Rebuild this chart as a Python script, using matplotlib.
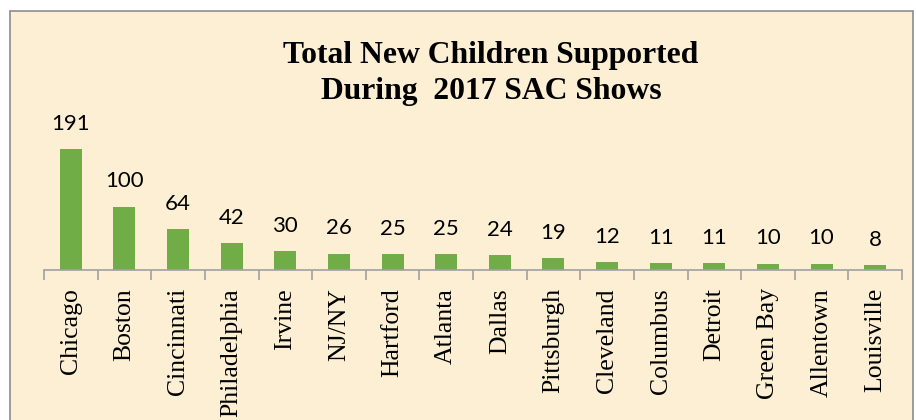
import matplotlib.pyplot as plt
from matplotlib.patches import Rectangle
import numpy as np

cities = ['Chicago', 'Boston', 'Cincinnati', 'Philadelphia', 'Irvine', 'NJ/NY',
          'Hartford', 'Atlanta', 'Dallas', 'Pittsburgh', 'Cleveland', 'Columbus',
          'Detroit', 'Green Bay', 'Allentown', 'Louisville']
children = [191, 100, 64, 42, 30, 26, 25, 25, 24, 19, 12, 11, 11, 10, 10, 8]
title_lines = ['Total New Children Supported', 'During  2017 SAC Shows']

W, H = 916, 420
fig = plt.figure(figsize=(W / 100, H / 100), dpi=100)
fig.patch.set_facecolor('white')

# parchment frame, behind everything
frame = Rectangle((10 / W, -0.05), 903 / W, 1 - 11 / H + 0.05,
                  transform=fig.transFigure, facecolor='#FCEFD3',
                  edgecolor='#8C8C8C', linewidth=1.2, zorder=-10)
fig.patches.append(frame)

left, right = 44 / W, 902 / W
bottom, top = 1 - 270 / H, 1 - 100 / H
ax = fig.add_axes([left, bottom, right - left, top - bottom])
ax.set_facecolor('none')

x = np.arange(len(cities))
bars = ax.bar(x, children, width=0.41, color='#70AD47', zorder=2)

ax.set_xlim(-0.5, len(cities) - 0.5)
ax.set_ylim(0, 170 / 0.634)

for rect, v in zip(bars, children):
    ax.annotate(str(v), (rect.get_x() + rect.get_width() / 2, v),
                xytext=(0, 11), textcoords='offset points',
                ha='center', va='bottom', fontsize=16, family='Lato',
                annotation_clip=False)

for s in ['top', 'right', 'left']:
    ax.spines[s].set_visible(False)
ax.spines['bottom'].set_color('#A0A0A0')
ax.spines['bottom'].set_linewidth(1.2)
ax.set_yticks([])

ax.set_xticks(x)
ax.set_xticklabels(cities, rotation=90, family='Liberation Serif', fontsize=18.5,
                   va='top', ha='center')
ax.tick_params(axis='x', which='major', length=0, pad=13)
ax.set_xticks(np.arange(len(cities) + 1) - 0.5, minor=True)
ax.tick_params(axis='x', which='minor', length=7, color='#A0A0A0', width=1.2,
               direction='out')

for line, ypx in zip(title_lines, [55, 92]):
    fig.text(491 / W, 1 - ypx / H, line, ha='center', va='center',
             family='Liberation Serif', fontweight='bold', fontsize=22.8)

fig.savefig('out.png', dpi=100)
